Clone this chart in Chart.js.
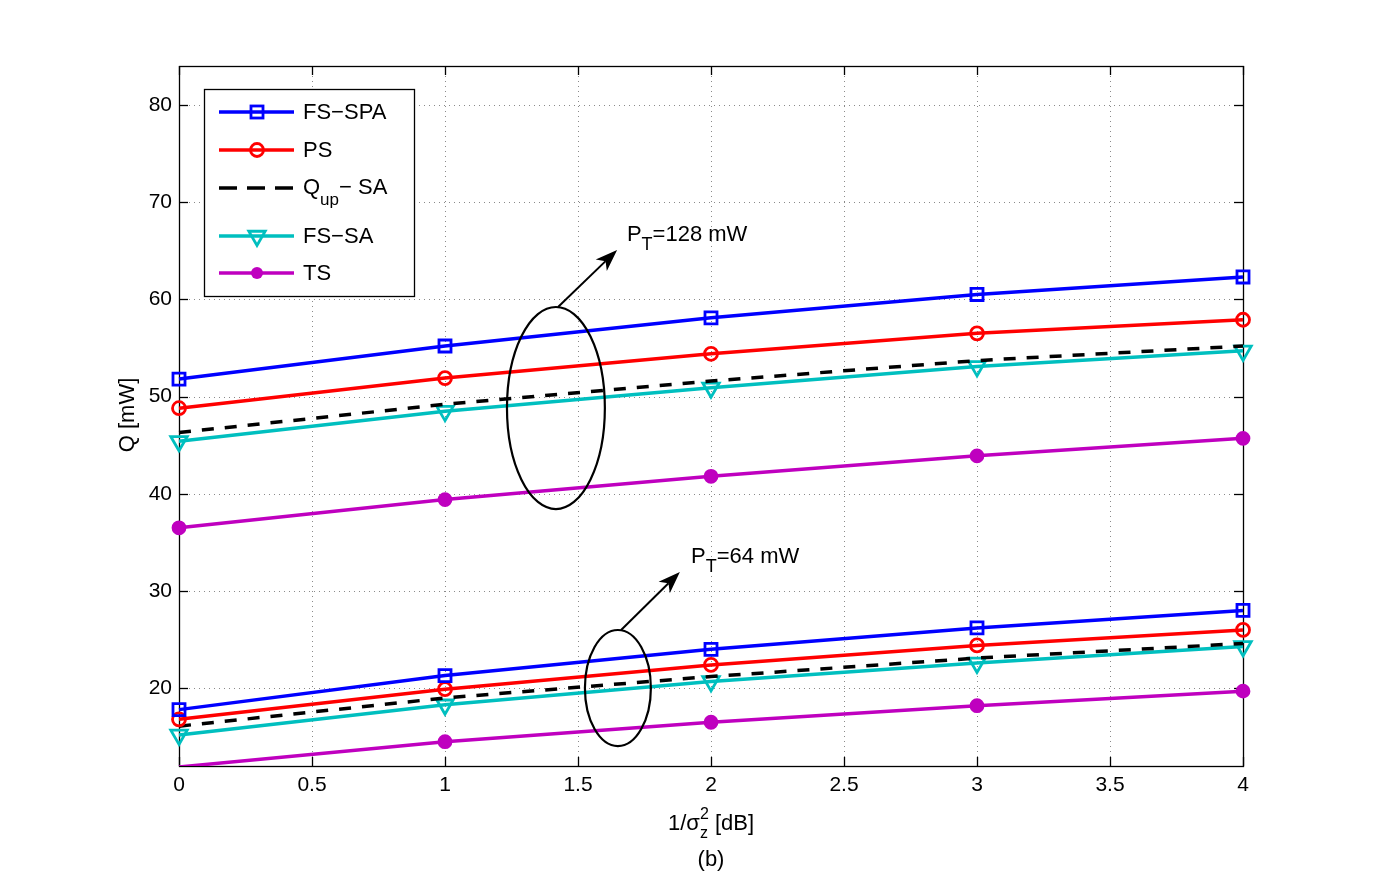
<!DOCTYPE html>
<html>
<head>
<meta charset="utf-8">
<script src="https://cdn.jsdelivr.net/npm/chart.js@4.4.1/dist/chart.umd.min.js"></script>
<style>
  html, body { margin: 0; padding: 0; background: #ffffff; }
  #wrap { width: 1373px; height: 871px; position: relative; }
</style>
</head>
<body>
<div id="wrap"><canvas id="c" width="1373" height="871"></canvas></div>
<script>
// ---------- data ----------
const xValues = [0, 1, 2, 3, 4];
const xTicks = [0, 0.5, 1, 1.5, 2, 2.5, 3, 3.5, 4];
const yTicks = [20, 30, 40, 50, 60, 70, 80];
const seriesNames = ['FS\u2212SPA', 'PS', 'Qup\u2212 SA', 'FS\u2212SA', 'TS'];

// P_T = 128 mW
const fsSpa128 = [51.8, 55.2, 58.1, 60.5, 62.3];
const ps128    = [48.8, 51.9, 54.4, 56.5, 57.9];
const qup128   = [46.3, 49.2, 51.6, 53.7, 55.2];
const fsSa128  = [45.4, 48.5, 50.9, 53.1, 54.7];
const ts128    = [36.5, 39.4, 41.8, 43.9, 45.7];

// P_T = 64 mW
const fsSpa64 = [17.8, 21.3, 24.0, 26.2, 28.0];
const ps64    = [16.8, 19.9, 22.4, 24.4, 26.0];
const qup64   = [16.1, 19.0, 21.2, 23.1, 24.6];
const fsSa64  = [15.2, 18.3, 20.7, 22.6, 24.3];
const ts64    = [11.9, 14.5, 16.5, 18.2, 19.7];

const annotationLabels = ['P', 'T', '=128 mW', '=64 mW'];

// ---------- styles ----------
const Y_MIN = 12, Y_MAX = 84;
const FONT = '"Liberation Sans", Arial, Helvetica, sans-serif';
const styles = [
  { color: '#0000ff', pointStyle: 'rect', radius: 8.5, fill: false, rot: 0, dash: [] },
  { color: '#ff0000', pointStyle: 'circle', radius: 6.5, fill: false, rot: 0, dash: [] },
  { color: '#000000', pointStyle: false, radius: 0, fill: false, rot: 0, dash: [12, 11] },
  { color: '#00bfbf', pointStyle: 'triangle', radius: 9.5, fill: false, rot: 180, dash: [] },
  { color: '#bf00bf', pointStyle: 'circle', radius: 6, fill: true, rot: 0, dash: [] }
];

function toXY(arr) { return arr.map((v, i) => ({ x: xValues[i], y: v })); }

function makeDataset(values, idx) {
  const s = styles[idx];
  return {
    label: seriesNames[idx],
    data: toXY(values),
    borderColor: s.color,
    borderWidth: 3.5,
    borderDash: s.dash,
    backgroundColor: s.color,
    pointStyle: s.pointStyle,
    pointRadius: (ctx) => (ctx.raw && ctx.raw.y < Y_MIN) ? 0 : s.radius,
    pointHoverRadius: s.radius,
    pointBorderWidth: 2.8,
    pointBorderColor: s.color,
    pointBackgroundColor: s.fill ? s.color : 'rgba(0,0,0,0)',
    pointRotation: s.rot,
    tension: 0,
    fill: false,
    clip: { left: 14, right: 14, top: 0, bottom: 0 }
  };
}

const groups128 = [fsSpa128, ps128, qup128, fsSa128, ts128];
const groups64 = [fsSpa64, ps64, qup64, fsSa64, ts64];
const datasets = [];
groups128.forEach((g, i) => datasets.push(makeDataset(g, i)));
groups64.forEach((g, i) => datasets.push(makeDataset(g, i)));

// ---------- drawing helpers ----------
function drawMarker(ctx, idx, x, y) {
  const s = styles[idx];
  if (!s.pointStyle) return;
  ctx.save();
  ctx.strokeStyle = s.color;
  ctx.fillStyle = s.color;
  ctx.lineWidth = 2.8;
  if (s.pointStyle === 'rect') {
    const h = s.radius * Math.SQRT1_2;
    ctx.strokeRect(x - h, y - h, 2 * h, 2 * h);
  } else if (s.pointStyle === 'circle') {
    ctx.beginPath();
    ctx.arc(x, y, s.radius, 0, Math.PI * 2);
    if (s.fill) ctx.fill(); else ctx.stroke();
  } else if (s.pointStyle === 'triangle') {
    const r = s.radius;
    ctx.beginPath();
    ctx.moveTo(x - r * 0.866, y - r * 0.5);
    ctx.lineTo(x + r * 0.866, y - r * 0.5);
    ctx.lineTo(x, y + r);
    ctx.closePath();
    ctx.stroke();
  }
  ctx.restore();
}

function drawSubText(ctx, x, y, main, sub, rest, size) {
  ctx.font = size + 'px ' + FONT;
  ctx.fillText(main, x, y);
  let w = ctx.measureText(main).width;
  ctx.font = Math.round(size * 0.8) + 'px ' + FONT;
  ctx.fillText(sub, x + w, y + size * 0.4);
  const w2 = ctx.measureText(sub).width;
  ctx.font = size + 'px ' + FONT;
  ctx.fillText(rest, x + w + w2, y);
}

function drawArrow(ctx, x1, y1, x2, y2) {
  ctx.save();
  ctx.strokeStyle = '#000';
  ctx.fillStyle = '#000';
  ctx.lineWidth = 2;
  const ang = Math.atan2(y2 - y1, x2 - x1);
  const hl = 22, hw = 8;
  const bx = x2 - hl * Math.cos(ang), by = y2 - hl * Math.sin(ang);
  ctx.beginPath();
  ctx.moveTo(x1, y1);
  ctx.lineTo(bx + 6 * Math.cos(ang), by + 6 * Math.sin(ang));
  ctx.stroke();
  ctx.beginPath();
  ctx.moveTo(x2, y2);
  ctx.lineTo(bx + hw * Math.sin(ang), by - hw * Math.cos(ang));
  ctx.lineTo(bx + 6 * Math.cos(ang), by + 6 * Math.sin(ang));
  ctx.lineTo(bx - hw * Math.sin(ang), by + hw * Math.cos(ang));
  ctx.closePath();
  ctx.fill();
  ctx.restore();
}

// ---------- plugin ----------
const decor = {
  id: 'decor',
  beforeDraw(chart) {
    const ctx = chart.ctx;
    ctx.save();
    ctx.fillStyle = '#ffffff';
    ctx.fillRect(0, 0, chart.width, chart.height);
    ctx.restore();
  },
  beforeDatasetsDraw(chart) {
    const ctx = chart.ctx;
    const a = chart.chartArea;
    const xs = chart.scales.x, ys = chart.scales.y;
    ctx.save();
    // dotted grid
    ctx.strokeStyle = '#8a8a8a';
    ctx.lineWidth = 1;
    ctx.setLineDash([1, 4]);
    xTicks.forEach(v => {
      const px = Math.round(xs.getPixelForValue(v)) + 0.5;
      ctx.beginPath(); ctx.moveTo(px, a.top); ctx.lineTo(px, a.bottom); ctx.stroke();
    });
    yTicks.forEach(v => {
      const py = Math.round(ys.getPixelForValue(v)) + 0.5;
      ctx.beginPath(); ctx.moveTo(a.left, py); ctx.lineTo(a.right, py); ctx.stroke();
    });
    ctx.setLineDash([]);
    // frame
    ctx.strokeStyle = '#000';
    ctx.lineWidth = 1.3;
    ctx.strokeRect(Math.round(a.left) + 0.5, Math.round(a.top) + 0.5,
                   Math.round(a.right - a.left), Math.round(a.bottom - a.top));
    // inward ticks
    const tl = 9;
    xTicks.forEach(v => {
      const px = Math.round(xs.getPixelForValue(v)) + 0.5;
      ctx.beginPath(); ctx.moveTo(px, a.bottom); ctx.lineTo(px, a.bottom - tl); ctx.stroke();
      ctx.beginPath(); ctx.moveTo(px, a.top); ctx.lineTo(px, a.top + tl); ctx.stroke();
    });
    yTicks.forEach(v => {
      const py = Math.round(ys.getPixelForValue(v)) + 0.5;
      ctx.beginPath(); ctx.moveTo(a.left, py); ctx.lineTo(a.left + tl, py); ctx.stroke();
      ctx.beginPath(); ctx.moveTo(a.right, py); ctx.lineTo(a.right - tl, py); ctx.stroke();
    });
    ctx.restore();
  },
  afterDatasetsDraw(chart) {
    const ctx = chart.ctx;
    const xs = chart.scales.x, ys = chart.scales.y;
    const X = v => xs.getPixelForValue(v), Y = v => ys.getPixelForValue(v);
    ctx.save();

    // ellipses (data coordinates)
    ctx.strokeStyle = '#000';
    ctx.lineWidth = 2.2;
    [[1.417, 48.82, 0.184, 10.39], [1.650, 20.02, 0.124, 5.97]].forEach(e => {
      const cx = X(e[0]), cy = Y(e[1]);
      const rx = X(e[0] + e[2]) - cx, ry = cy - Y(e[1] + e[3]);
      ctx.beginPath();
      ctx.ellipse(cx, cy, rx, ry, 0, 0, Math.PI * 2);
      ctx.stroke();
    });
    // arrows
    drawArrow(ctx, X(1.425), Y(59.21), X(1.647), Y(65.07));
    drawArrow(ctx, X(1.662), Y(25.99), X(1.883), Y(31.95));
    // labels
    ctx.fillStyle = '#000';
    ctx.textBaseline = 'alphabetic';
    ctx.textAlign = 'left';
    drawSubText(ctx, X(1.684), Y(66.0), annotationLabels[0], annotationLabels[1], annotationLabels[2], 22);
    drawSubText(ctx, X(1.925), Y(32.88), annotationLabels[0], annotationLabels[1], annotationLabels[3], 22);

    // legend box
    const lx = 204, ly = 89, lw = 210, lh = 207;
    ctx.fillStyle = '#fff';
    ctx.fillRect(lx, ly, lw, lh);
    ctx.strokeStyle = '#000';
    ctx.lineWidth = 1.3;
    ctx.strokeRect(lx + 0.5, ly + 0.5, lw, lh);
    const rows = [112, 150, 188, 236, 273];
    rows.forEach((ry, i) => {
      const s = styles[i];
      ctx.save();
      ctx.strokeStyle = s.color;
      ctx.lineWidth = 3.5;
      ctx.setLineDash(i === 2 ? [18, 10] : []);
      ctx.beginPath(); ctx.moveTo(219, ry); ctx.lineTo(294, ry); ctx.stroke();
      ctx.restore();
      drawMarker(ctx, i, 257, ry);
      ctx.fillStyle = '#000';
      ctx.textBaseline = 'middle';
      if (i === 2) {
        ctx.font = '22px ' + FONT;
        ctx.fillText('Q', 303, ry);
        const w = ctx.measureText('Q').width;
        ctx.font = '17px ' + FONT;
        ctx.fillText('up', 303 + w, ry + 12);
        const w2 = ctx.measureText('up').width;
        ctx.font = '22px ' + FONT;
        ctx.fillText('\u2212 SA', 303 + w + w2, ry);
      } else {
        ctx.font = '22px ' + FONT;
        ctx.fillText(seriesNames[i], 303, ry + 1);
      }
    });

    // axis titles
    ctx.fillStyle = '#000';
    ctx.textBaseline = 'alphabetic';
    ctx.save();
    ctx.translate(134, 415);
    ctx.rotate(-Math.PI / 2);
    ctx.textAlign = 'center';
    ctx.font = '22px ' + FONT;
    ctx.fillText('Q [mW]', 0, 0);
    ctx.restore();

    // x title 1/σ_z^2 [dB]
    ctx.textAlign = 'left';
    ctx.font = '22px ' + FONT;
    const p1 = '1/\u03c3', p2 = ' [dB]';
    const w1 = ctx.measureText(p1).width;
    ctx.font = '16px ' + FONT;
    const ws = ctx.measureText('2').width;
    ctx.font = '22px ' + FONT;
    const w3 = ctx.measureText(p2).width;
    const total = w1 + ws + w3;
    let sx = 711 - total / 2;
    const by = 830;
    ctx.fillText(p1, sx, by);
    ctx.font = '16px ' + FONT;
    ctx.fillText('2', sx + w1, by - 11);
    ctx.fillText('z', sx + w1, by + 8);
    ctx.font = '22px ' + FONT;
    ctx.fillText(p2, sx + w1 + ws, by);
    ctx.textAlign = 'center';
    ctx.fillText('(b)', 711, 866);

    ctx.restore();
  }
};

new Chart(document.getElementById('c'), {
  type: 'line',
  data: { datasets },
  options: {
    responsive: false,
    animation: false,
    devicePixelRatio: 1,
    layout: { padding: { top: 66, right: 130, left: 0, bottom: 0 } },
    plugins: { legend: { display: false }, tooltip: { enabled: false } },
    scales: {
      x: {
        type: 'linear',
        min: 0, max: 4,
        afterBuildTicks: s => { s.ticks = xTicks.map(v => ({ value: v })); },
        afterFit: s => { s.height = 105; },
        grid: { display: false, drawTicks: false },
        border: { display: false },
        ticks: { color: '#000', font: { family: FONT, size: 21 }, padding: 7, maxRotation: 0, autoSkip: false,
                 callback: v => String(v) }
      },
      y: {
        type: 'linear',
        min: Y_MIN, max: Y_MAX,
        afterBuildTicks: s => { s.ticks = yTicks.map(v => ({ value: v })); },
        afterFit: s => { s.width = 179; },
        grid: { display: false, drawTicks: false },
        border: { display: false },
        ticks: { color: '#000', font: { family: FONT, size: 21 }, padding: 7, autoSkip: false,
                 callback: v => String(v) }
      }
    }
  },
  plugins: [decor]
});
</script>
</body>
</html>
